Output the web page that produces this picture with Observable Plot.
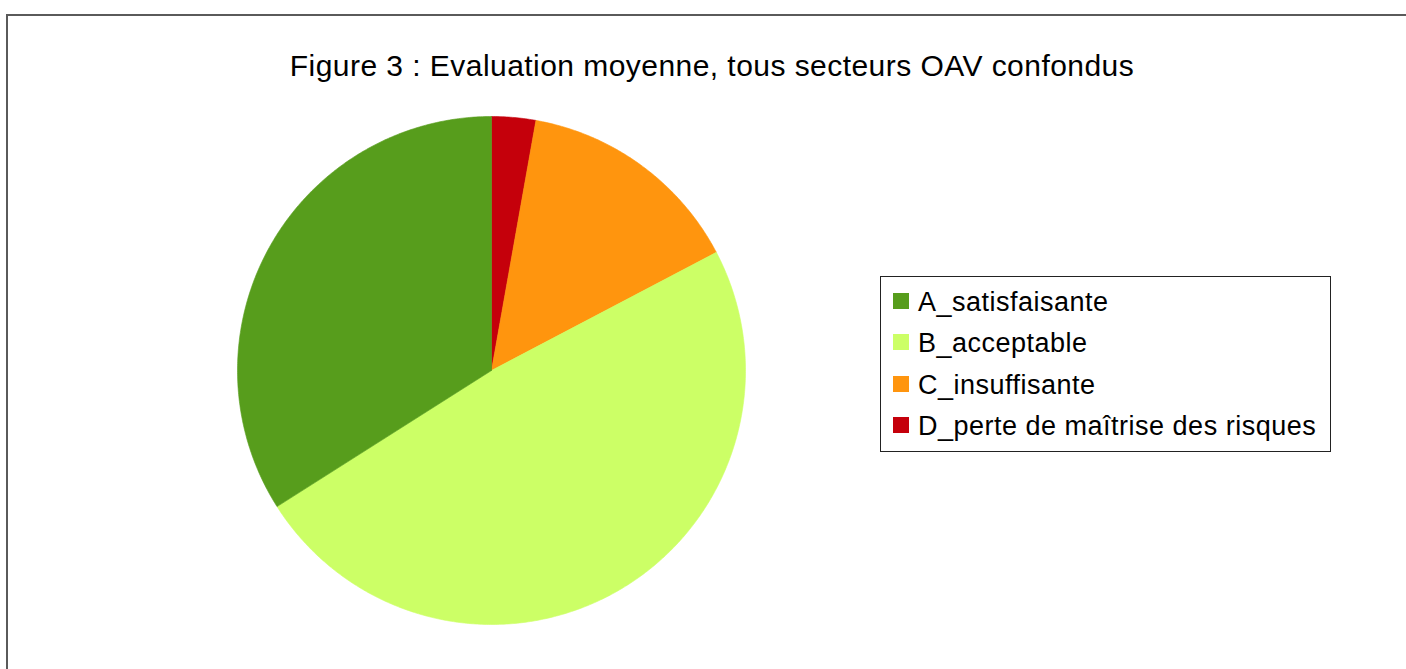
<!DOCTYPE html>
<html>
<head>
<meta charset="utf-8">
<script src="https://cdn.jsdelivr.net/npm/d3@7"></script>
<script src="https://cdn.jsdelivr.net/npm/@observablehq/plot@0.6"></script>
<style>
  html, body { margin: 0; padding: 0; background: #fff; }
  #root { position: relative; width: 1406px; height: 669px; overflow: hidden; font-family: "Liberation Sans", Arial, sans-serif; color: #000; }
  #frame { position: absolute; left: 6px; top: 14px; width: 1500px; height: 800px; border-left: 2px solid #5a5a5a; border-top: 2px solid #5a5a5a; box-sizing: border-box; }
  #title { position: absolute; left: 712px; top: 51px; transform: translateX(-50%); white-space: nowrap; font-size: 30px; line-height: 30px; letter-spacing: 0.45px; }
  #pie { position: absolute; left: 237px; top: 116px; }
  #legend { position: absolute; left: 880px; top: 276px; width: 451px; height: 176px; box-sizing: border-box; border: 1px solid #222; background: #fff; }
  .item { position: absolute; left: 12px; font-size: 27px; line-height: 27px; letter-spacing: 0.5px; white-space: nowrap; }
  .sw { position: absolute; left: 0; top: 4px; width: 16px; height: 16px; }
  .lbl { position: absolute; left: 25px; top: 0; }
</style>
</head>
<body>
<div id="root">
  <div id="frame"></div>
  <div id="title"></div>
  <div id="pie"></div>
  <div id="legend"></div>
</div>
<script>
// Data
const titleText = "Figure 3 : Evaluation moyenne, tous secteurs OAV confondus";
const categories = ["A_satisfaisante", "B_acceptable", "C_insuffisante", "D_perte de maîtrise des risques"];
const values = [34.0, 48.7, 14.5, 2.8];
const colors = ["#579d1c", "#ccff66", "#ff950e", "#c5000b"];

document.getElementById("title").textContent = titleText;

// Slices drawn clockwise from 12 o'clock in order D, C, B, A
const order = [3, 2, 1, 0];
const pieData = order.map(i => ({cat: categories[i], value: values[i]}));
const arcs = d3.pie().sort(null).value(d => d.value)(pieData);

const pts = [];
for (const a of arcs) {
  pts.push({cat: a.data.cat, x: 0, y: 0});
  const n = Math.max(2, Math.ceil((a.endAngle - a.startAngle) / (Math.PI / 360)));
  for (let k = 0; k <= n; k++) {
    const t = a.startAngle + (a.endAngle - a.startAngle) * k / n;
    pts.push({cat: a.data.cat, x: Math.sin(t), y: Math.cos(t)});
  }
  pts.push({cat: a.data.cat, x: 0, y: 0});
}

const size = 508;
const chart = Plot.plot({
  width: size,
  height: size,
  margin: 0,
  x: {domain: [-1, 1], axis: null},
  y: {domain: [-1, 1], axis: null},
  color: {domain: categories, range: colors},
  style: {background: "transparent", overflow: "visible"},
  marks: [
    Plot.line(pts, {x: "x", y: "y", z: "cat", fill: "cat", stroke: "cat", strokeWidth: 0.6, curve: "linear"})
  ]
});
document.getElementById("pie").appendChild(chart);

// Legend
const leg = document.getElementById("legend");
categories.forEach((c, i) => {
  const it = document.createElement("div");
  it.className = "item";
  it.style.top = (11.8 + 41.4 * i) + "px";
  const sw = document.createElement("div");
  sw.className = "sw";
  sw.style.background = colors[i];
  const lb = document.createElement("div");
  lb.className = "lbl";
  lb.textContent = c;
  it.appendChild(sw);
  it.appendChild(lb);
  leg.appendChild(it);
});
</script>
</body>
</html>
